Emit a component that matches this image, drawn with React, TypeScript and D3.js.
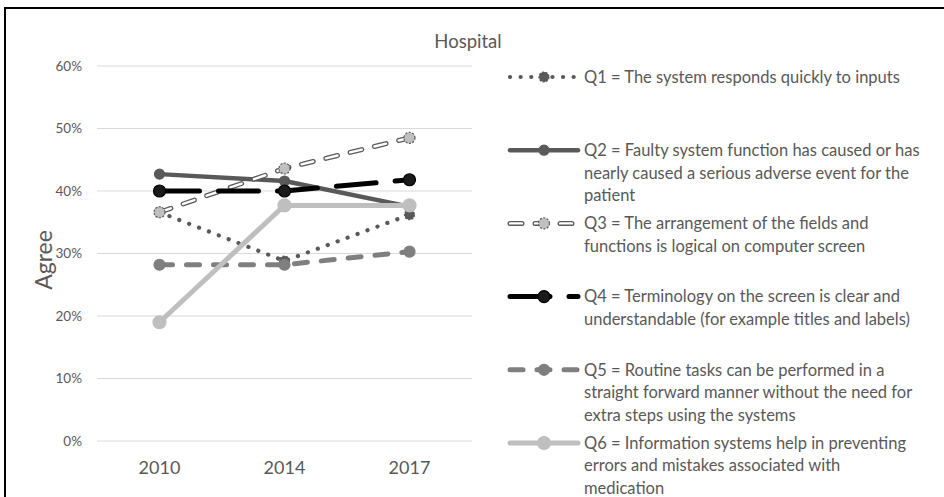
import React from 'react'
import * as d3 from 'd3'

const years = ['2010', '2014', '2017']
const yTicks = [0, 0.1, 0.2, 0.3, 0.4, 0.5, 0.6]

const q1 = [0.366, 0.288, 0.362]
const q2 = [0.427, 0.416, 0.375]
const q3 = [0.366, 0.436, 0.485]
const q4 = [0.4, 0.4, 0.418]
const q5 = [0.282, 0.282, 0.303]
const q6 = [0.19, 0.377, 0.377]

const labels = [
  ['Q1 = The system responds quickly to inputs'],
  ['Q2 = Faulty system function has caused or has', 'nearly caused a serious adverse event for the', 'patient'],
  ['Q3 = The arrangement of the fields and', 'functions is logical on computer screen'],
  ['Q4 = Terminology on the screen is clear and', 'understandable (for example titles and labels)'],
  ['Q5 = Routine tasks can be performed in a', 'straight forward manner without the need for', 'extra steps using the systems'],
  ['Q6 = Information systems help in preventing', 'errors and mistakes associated with', 'medication'],
]

interface Style {
  color: string
  width: number
  dash?: string
  cap: 'round' | 'butt'
  double?: boolean
  markerFill: string
  markerStroke: string
  markerDash?: string
  r: number
}

const styles: Style[] = [
  { color: '#595959', width: 4.2, dash: '0.1 10.5', cap: 'round', markerFill: '#595959', markerStroke: '#595959', markerDash: '2 1.5', r: 5 },
  { color: '#595959', width: 4.5, cap: 'round', markerFill: '#595959', markerStroke: '#595959', r: 5 },
  { color: '#595959', width: 5, dash: '12 13', cap: 'round', double: true, markerFill: '#bfbfbf', markerStroke: '#595959', markerDash: '2 1.5', r: 5.5 },
  { color: '#000000', width: 5, dash: '40 19', cap: 'round', markerFill: '#1a1a1a', markerStroke: '#000', r: 6 },
  { color: '#7f7f7f', width: 5, dash: '13 14', cap: 'round', markerFill: '#7f7f7f', markerStroke: '#7f7f7f', r: 5.5 },
  { color: '#bfbfbf', width: 5, cap: 'round', markerFill: '#bfbfbf', markerStroke: '#bfbfbf', r: 6.5 },
]

const series = [q1, q2, q3, q4, q5, q6]

const font = 'Lato, "Open Sans", sans-serif'

function Path({ d, s }: { d: string; s: Style }) {
  return (
    <g fill="none">
      <path d={d} stroke={s.color} strokeWidth={s.width} strokeDasharray={s.dash} strokeLinecap={s.cap} strokeLinejoin="round" />
      {s.double && (
        <path d={d} stroke="#fff" strokeWidth={s.width - 2.6} strokeDasharray={s.dash} strokeLinecap={s.cap} strokeLinejoin="round" />
      )}
    </g>
  )
}

function Marker({ x, y, s }: { x: number; y: number; s: Style }) {
  return <circle cx={x} cy={y} r={s.r} fill={s.markerFill} stroke={s.markerStroke} strokeWidth={1.2} strokeDasharray={s.markerDash} />
}

export default function App() {
  const x = d3.scaleBand<string>().domain(years).range([97, 472])
  const y = d3.scaleLinear().domain([0, 0.6]).range([441, 66])
  const line = d3
    .line<number>()
    .x((_, i) => x(years[i])! + x.bandwidth() / 2)
    .y((d) => y(d))
  const fmt = d3.format('.0%')

  const legX0 = 510
  const legX1 = 578
  const legTop = 77
  const legStep = 73.2
  const lineH = 22.6

  return (
    <svg width={944} height={497} style={{ position: 'absolute', left: 0, top: 0 }} fontFamily={font}>
      <rect x={0} y={0} width={944} height={497} fill="#fff" />
      <rect x={5} y={8} width={960} height={520} fill="none" stroke="#000" strokeWidth={2} />

      {yTicks.map((t) => (
        <g key={t}>
          <line x1={97} x2={472} y1={y(t)} y2={y(t)} stroke="#d9d9d9" strokeWidth={1} />
          <text x={82} y={y(t)} dy="0.35em" textAnchor="end" fontSize={13.5} fill="#595959">
            {fmt(t)}
          </text>
        </g>
      ))}
      {years.map((yr) => (
        <text key={yr} x={x(yr)! + x.bandwidth() / 2} y={468} dy="0.35em" textAnchor="middle" fontSize={18} fill="#595959">
          {yr}
        </text>
      ))}
      <text transform="translate(44,260) rotate(-90)" textAnchor="middle" dy="0.35em" fontSize={23} fill="#595959">
        Agree
      </text>
      <text x={468} y={42} textAnchor="middle" dy="0.35em" fontSize={18.5} fill="#595959">
        Hospital
      </text>

      {series.map((vals, i) => (
        <Path key={i} d={line(vals)!} s={styles[i]} />
      ))}
      {series.map((vals, i) =>
        vals.map((v, j) => <Marker key={`${i}-${j}`} x={x(years[j])! + x.bandwidth() / 2} y={y(v)} s={styles[i]} />),
      )}

      {labels.map((lines, i) => {
        const cy = legTop + i * legStep
        const s = styles[i]
        return (
          <g key={i}>
            <Path d={`M${legX0},${cy}L${legX1},${cy}`} s={s} />
            <Marker x={(legX0 + legX1) / 2} y={cy} s={s} />
            {lines.map((t, k) => (
              <text key={k} x={584} y={cy + k * lineH} dy="0.35em" fontSize={16.5} fill="#595959">
                {t}
              </text>
            ))}
          </g>
        )
      })}
    </svg>
  )
}
